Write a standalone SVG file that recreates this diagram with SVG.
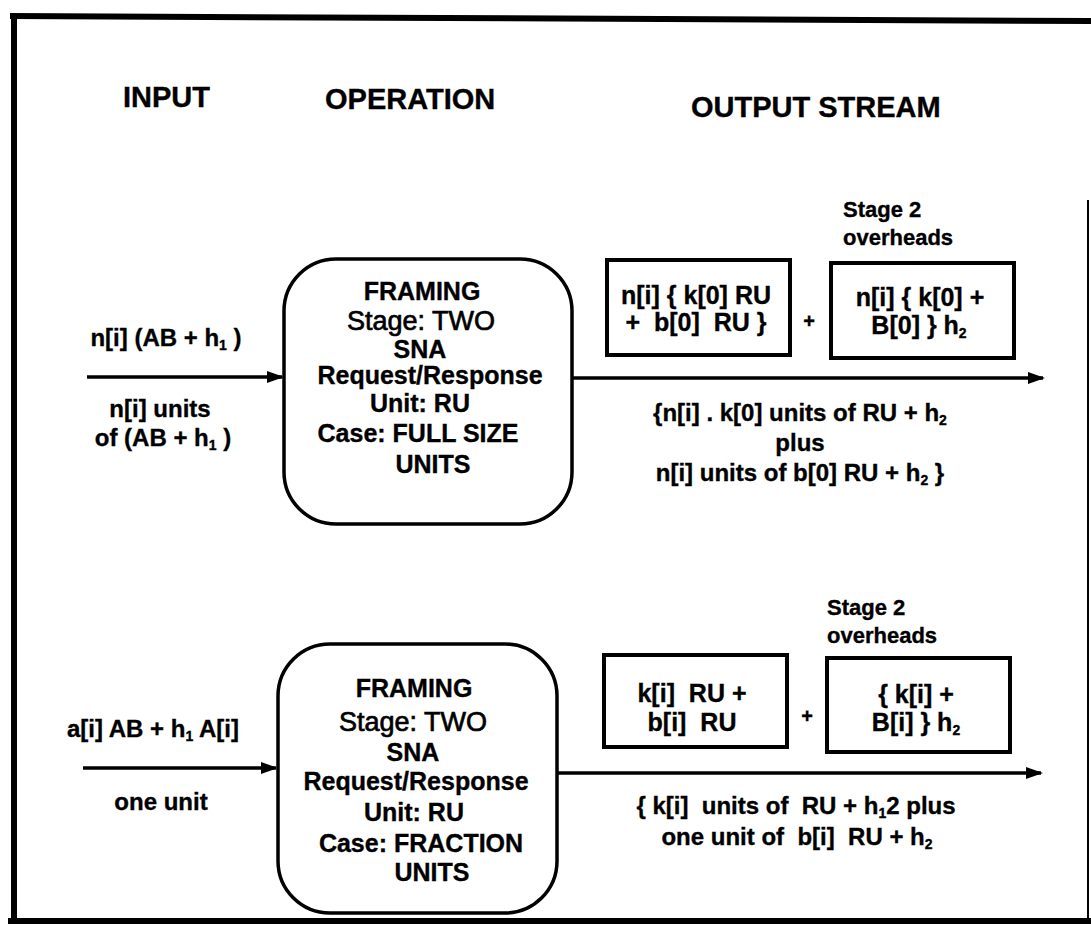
<svg xmlns="http://www.w3.org/2000/svg" width="1091" height="936" viewBox="0 0 1091 936">
<style>
text{font-family:"Liberation Sans",Arial,sans-serif;font-weight:bold;fill:#000;stroke:#000;stroke-width:0.35}
.hd{font-size:29px}
.lb{font-size:24px;text-anchor:middle}
.bx{font-size:25px;text-anchor:middle}
.fb{font-size:25px;text-anchor:middle}
.st{font-size:27px;font-weight:normal;text-anchor:middle;stroke-width:0.7}
.ov{font-size:22px}
.pl{font-size:20px;text-anchor:middle}
.sub{font-size:14px}
.rbox{fill:#fff;stroke:#000;stroke-width:3.5}
.box{fill:#fff;stroke:#000;stroke-width:4}
.conn{stroke:#000;stroke-width:3.5;fill:none;marker-end:url(#ah)}
</style>
<defs>
<marker id="ah" markerWidth="17" markerHeight="12" refX="15" refY="6" orient="auto" markerUnits="userSpaceOnUse">
<path d="M0,0 L17,6 L0,12 Z" fill="#000"/>
</marker>
</defs>
<rect x="0" y="0" width="1091" height="936" fill="#fff"/>
<g id="frame" stroke="#000" fill="none">
<line x1="10" y1="16" x2="1091" y2="21" stroke-width="6"/>
<line x1="14" y1="14" x2="14" y2="923" stroke-width="6"/>
<line x1="8" y1="921" x2="1091" y2="921" stroke-width="6"/>
<line x1="1088" y1="200" x2="1088" y2="921" stroke-width="2"/>
</g>
<g id="headers">
<text class="hd" x="123" y="107">INPUT</text>
<text class="hd" x="325" y="109">OPERATION</text>
<text class="hd" x="691" y="117">OUTPUT STREAM</text>
</g>
<g id="connectors">
<line class="conn" x1="87" y1="377" x2="282" y2="377"/>
<line class="conn" x1="572" y1="378" x2="1043" y2="378"/>
<line class="conn" x1="83" y1="768" x2="276" y2="768"/>
<line class="conn" x1="557" y1="773" x2="1041" y2="773"/>
</g>
<g id="input1">
<text class="lb" x="166" y="346">n[i] (AB + h<tspan class="sub" dy="4">1</tspan><tspan dy="-4"> )</tspan></text>
<text class="lb" x="160" y="417">n[i] units</text>
<text class="lb" x="163" y="446">of (AB + h<tspan class="sub" dy="4">1</tspan><tspan dy="-4"> )</tspan></text>
</g>
<g id="framing1">
<rect class="rbox" x="284" y="259" width="288" height="265" rx="52" ry="52"/>
<text class="fb" x="422" y="300">FRAMING</text>
<text class="st" x="421" y="330">Stage: TWO</text>
<text class="fb" x="420" y="358">SNA</text>
<text class="fb" x="430" y="384">Request/Response</text>
<text class="fb" x="420" y="412">Unit: RU</text>
<text class="fb" x="418" y="442">Case: FULL SIZE</text>
<text class="fb" x="433" y="473">UNITS</text>
</g>
<g id="payload1">
<rect class="box" x="607" y="260" width="183" height="95"/>
<text class="bx" x="696" y="304">n[i] { k[0] RU</text>
<text class="bx" x="696" y="331" xml:space="preserve">+  b[0]  RU }</text>
</g>
<text class="pl" x="809" y="328">+</text>
<g id="overhead1">
<text class="ov" x="843" y="217">Stage 2</text>
<text class="ov" x="843" y="245">overheads</text>
<rect class="box" x="831" y="263" width="183" height="95"/>
<text class="bx" x="920" y="306">n[i] { k[0] +</text>
<text class="bx" x="919" y="334">B[0] } h<tspan class="sub" dy="4">2</tspan></text>
</g>
<g id="output1">
<text class="lb" x="800" y="421">{n[i] . k[0] units of RU + h<tspan class="sub" dy="4">2</tspan></text>
<text class="lb" x="800" y="451">plus</text>
<text class="lb" x="800" y="481">n[i] units of b[0] RU + h<tspan class="sub" dy="4">2</tspan><tspan dy="-4"> }</tspan></text>
</g>
<g id="input2">
<text class="lb" x="153" y="737">a[i] AB + h<tspan class="sub" dy="4">1</tspan><tspan dy="-4"> A[i]</tspan></text>
<text class="lb" x="161" y="810">one unit</text>
</g>
<g id="framing2">
<rect class="rbox" x="278" y="644" width="279" height="269" rx="52" ry="52"/>
<text class="fb" x="414" y="697">FRAMING</text>
<text class="st" x="413" y="731">Stage: TWO</text>
<text class="fb" x="413" y="761">SNA</text>
<text class="fb" x="416" y="790">Request/Response</text>
<text class="fb" x="414" y="821">Unit: RU</text>
<text class="fb" x="421" y="852">Case: FRACTION</text>
<text class="fb" x="432" y="881">UNITS</text>
</g>
<g id="payload2">
<rect class="box" x="604" y="655" width="183" height="92"/>
<text class="bx" x="692" y="702" xml:space="preserve">k[i]  RU +</text>
<text class="bx" x="692" y="731" xml:space="preserve">b[i]  RU</text>
</g>
<text class="pl" x="807" y="723">+</text>
<g id="overhead2">
<text class="ov" x="827" y="615">Stage 2</text>
<text class="ov" x="827" y="643">overheads</text>
<rect class="box" x="827" y="658" width="183" height="94"/>
<text class="bx" x="916" y="703">{ k[i] +</text>
<text class="bx" x="916" y="731">B[i] } h<tspan class="sub" dy="4">2</tspan></text>
</g>
<g id="output2">
<text class="lb" x="796" y="814" xml:space="preserve">{ k[i]  units of  RU + h<tspan class="sub" dy="4">1</tspan><tspan dy="-4">2 plus</tspan></text>
<text class="lb" x="797" y="845" xml:space="preserve">one unit of  b[i]  RU + h<tspan class="sub" dy="4">2</tspan></text>
</g>
</svg>
